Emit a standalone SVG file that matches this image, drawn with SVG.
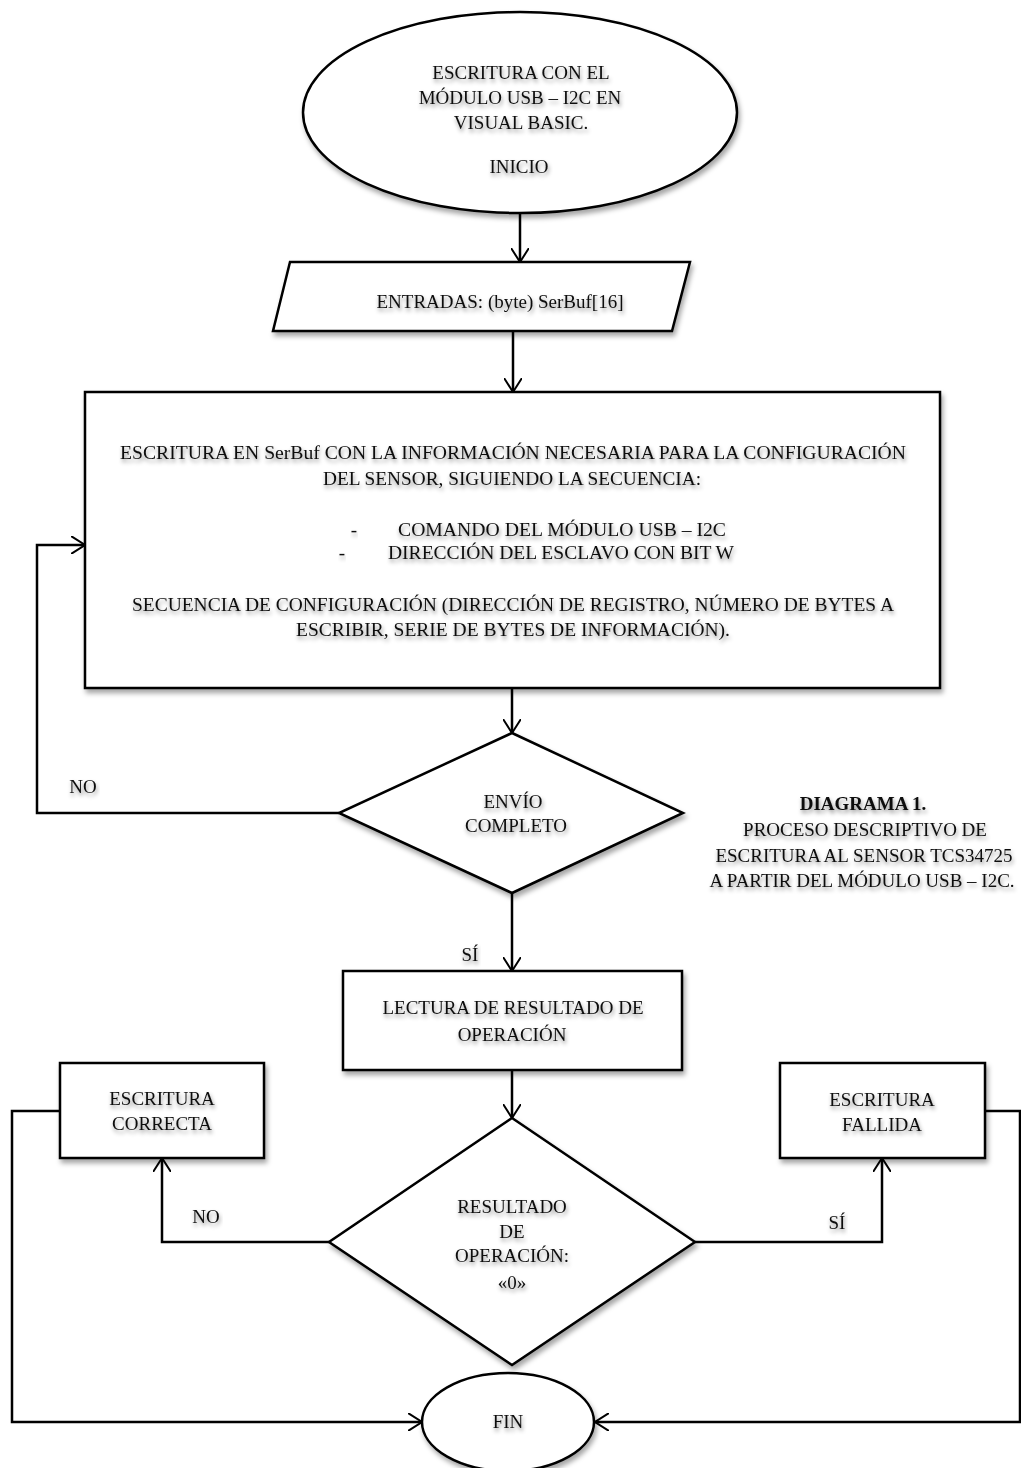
<svg xmlns="http://www.w3.org/2000/svg" width="1021" height="1468" viewBox="0 0 1021 1468">
<defs>
<filter id="sh" x="-20%" y="-20%" width="140%" height="160%">
<feDropShadow dx="2" dy="4" stdDeviation="2.5" flood-color="#000" flood-opacity="0.35"/>
</filter>
<filter id="tsh" x="-10%" y="-30%" width="120%" height="180%">
<feDropShadow dx="1" dy="3" stdDeviation="2" flood-color="#000" flood-opacity="0.45"/>
</filter>
<marker id="ar" viewBox="0 0 14 18" refX="14" refY="9" markerWidth="14" markerHeight="18" markerUnits="userSpaceOnUse" orient="auto">
<path d="M0,0 L14,9 L0,18" fill="none" stroke="#000" stroke-width="2"/>
</marker>
</defs>
<style>
.s{fill:#fff;stroke:#000;stroke-width:2.5;filter:url(#sh)}
.c{fill:none;stroke:#000;stroke-width:2.5}
text{font-family:"Liberation Serif","DejaVu Serif",serif;font-size:19px;fill:#111;text-anchor:middle;filter:url(#tsh)}
.b{font-weight:bold}
</style>
<rect width="1021" height="1468" fill="#fff"/>
<g id="connectors">
<line class="c" x1="520" y1="213" x2="520" y2="262" marker-end="url(#ar)"/>
<line class="c" x1="513" y1="331" x2="513" y2="392" marker-end="url(#ar)"/>
<line class="c" x1="512" y1="688" x2="512" y2="733" marker-end="url(#ar)"/>
<polyline class="c" points="339,813 37,813 37,545 85,545" marker-end="url(#ar)"/>
<line class="c" x1="512" y1="893" x2="512" y2="971" marker-end="url(#ar)"/>
<line class="c" x1="512" y1="1070" x2="512" y2="1118" marker-end="url(#ar)"/>
<polyline class="c" points="329,1242 162,1242 162,1158" marker-end="url(#ar)"/>
<polyline class="c" points="695,1242 882,1242 882,1158" marker-end="url(#ar)"/>
<polyline class="c" points="60,1111 12,1111 12,1422 422,1422" marker-end="url(#ar)"/>
<polyline class="c" points="985,1111 1020,1111 1020,1422 595,1422" marker-end="url(#ar)"/>
</g>
<g id="inicio">
<ellipse class="s" cx="520" cy="112.5" rx="217" ry="100.5"/>
<text x="521" y="79">ESCRITURA CON EL</text>
<text x="520" y="104">MÓDULO USB – I2C EN</text>
<text x="521" y="129">VISUAL BASIC.</text>
<text x="519" y="173">INICIO</text>
</g>
<g id="entradas">
<polygon class="s" points="290,262 690,262 672,331 273,331"/>
<text x="500" y="308">ENTRADAS: (byte) SerBuf[16]</text>
</g>
<g id="escritura">
<rect class="s" x="85" y="392" width="855" height="296"/>
<text x="513" y="459" textLength="786" lengthAdjust="spacingAndGlyphs">ESCRITURA EN SerBuf CON LA INFORMACIÓN NECESARIA PARA LA CONFIGURACIÓN</text>
<text x="512" y="485" textLength="378" lengthAdjust="spacingAndGlyphs">DEL SENSOR, SIGUIENDO LA SECUENCIA:</text>
<text x="354" y="536">-</text>
<text x="562" y="536" textLength="328" lengthAdjust="spacingAndGlyphs">COMANDO DEL MÓDULO USB – I2C</text>
<text x="342" y="559">-</text>
<text x="561" y="559" textLength="346" lengthAdjust="spacingAndGlyphs">DIRECCIÓN DEL ESCLAVO CON BIT W</text>
<text x="513" y="611" textLength="762" lengthAdjust="spacingAndGlyphs">SECUENCIA DE CONFIGURACIÓN (DIRECCIÓN DE REGISTRO, NÚMERO DE BYTES A</text>
<text x="513" y="636" textLength="434" lengthAdjust="spacingAndGlyphs">ESCRIBIR, SERIE DE BYTES DE INFORMACIÓN).</text>
</g>
<g id="envio">
<polygon class="s" points="512,733 683,813 512,893 339,813"/>
<text x="513" y="808">ENVÍO</text>
<text x="516" y="832">COMPLETO</text>
</g>
<g id="lectura">
<rect class="s" x="343" y="971" width="339" height="99"/>
<text x="513" y="1014">LECTURA DE RESULTADO DE</text>
<text x="512" y="1041">OPERACIÓN</text>
</g>
<g id="resultado">
<polygon class="s" points="512,1118 695,1242 512,1365 329,1242"/>
<text x="512" y="1213">RESULTADO</text>
<text x="512" y="1238">DE</text>
<text x="512" y="1262">OPERACIÓN:</text>
<text x="512" y="1289">«0»</text>
</g>
<g id="correcta">
<rect class="s" x="60" y="1063" width="204" height="95"/>
<text x="162" y="1105">ESCRITURA</text>
<text x="162" y="1130">CORRECTA</text>
</g>
<g id="fallida">
<rect class="s" x="780" y="1063" width="205" height="95"/>
<text x="882" y="1106">ESCRITURA</text>
<text x="882" y="1131">FALLIDA</text>
</g>
<g id="fin">
<ellipse class="s" cx="508" cy="1422" rx="86" ry="49"/>
<text x="508" y="1428">FIN</text>
</g>
<g id="labels">
<text x="83" y="793">NO</text>
<text x="470" y="961">SÍ</text>
<text x="206" y="1223">NO</text>
<text x="837" y="1229">SÍ</text>
</g>
<g id="caption">
<text class="b" x="863" y="810">DIAGRAMA 1.</text>
<text x="865" y="836">PROCESO DESCRIPTIVO DE</text>
<text x="864" y="862">ESCRITURA AL SENSOR TCS34725</text>
<text x="862" y="887">A PARTIR DEL MÓDULO USB – I2C.</text>
</g>
</svg>
